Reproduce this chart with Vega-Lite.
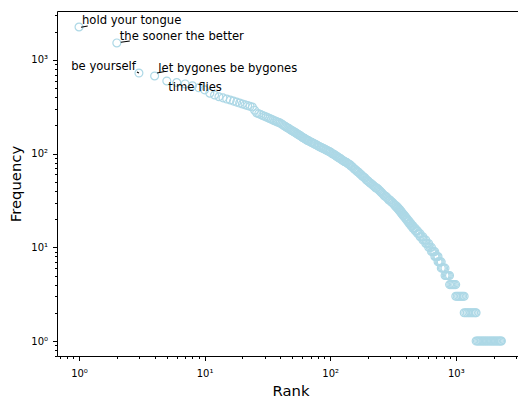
{
  "$schema": "https://vega.github.io/schema/vega-lite/v6.json",
  "width": 461,
  "height": 345,
  "autosize": {"type": "none"},
  "padding": {"left": 57, "top": 11, "right": 0, "bottom": 42},
  "config": {
    "view": {"stroke": null},
    "font": "DejaVu Sans",
    "axis": {
      "grid": false,
      "domainColor": "#000000",
      "domainWidth": 1,
      "tickColor": "#000000",
      "tickWidth": 1,
      "labelColor": "#000000",
      "labelFont": "DejaVu Sans",
      "labelFontSize": 10,
      "labelOverlap": false,
      "labelFlush": false,
      "labelBound": false,
      "titleFont": "DejaVu Sans",
      "titleFontSize": 14.8,
      "titleFontWeight": "normal",
      "titleColor": "#000000"
    }
  },
  "datasets": {
    "words": [
      {"rank": 1, "freq": 2250, "phrase": "hold your tongue"},
      {"rank": 2, "freq": 1520, "phrase": "the sooner the better"},
      {"rank": 3, "freq": 726, "phrase": "be yourself"},
      {"rank": 4, "freq": 675, "phrase": "let bygones be bygones"},
      {"rank": 5, "freq": 597, "phrase": "time flies"},
      {"rank": 6, "freq": 575}, {"rank": 7, "freq": 555}, {"rank": 8, "freq": 530}, {"rank": 9, "freq": 505}, {"rank": 10, "freq": 480},
      {"rank": 11, "freq": 442}, {"rank": 12, "freq": 423}, {"rank": 13, "freq": 405}, {"rank": 14, "freq": 394}, {"rank": 15, "freq": 383},
      {"rank": 16, "freq": 374}, {"rank": 17, "freq": 364}, {"rank": 18, "freq": 355}, {"rank": 19, "freq": 347}, {"rank": 20, "freq": 339},
      {"rank": 21, "freq": 332}, {"rank": 22, "freq": 326}, {"rank": 23, "freq": 320}, {"rank": 24, "freq": 315}, {"rank": 25, "freq": 291},
      {"rank": 26, "freq": 272}, {"rank": 27, "freq": 267}, {"rank": 28, "freq": 261}, {"rank": 29, "freq": 256}, {"rank": 30, "freq": 251},
      {"rank": 31, "freq": 246}, {"rank": 32, "freq": 241}, {"rank": 33, "freq": 237}, {"rank": 34, "freq": 233}, {"rank": 35, "freq": 229},
      {"rank": 36, "freq": 225}, {"rank": 37, "freq": 222}, {"rank": 38, "freq": 218}, {"rank": 39, "freq": 215}, {"rank": 40, "freq": 212},
      {"rank": 41, "freq": 207}, {"rank": 42, "freq": 203}, {"rank": 43, "freq": 199}, {"rank": 44, "freq": 195}, {"rank": 45, "freq": 191},
      {"rank": 46, "freq": 188}, {"rank": 47, "freq": 185}, {"rank": 48, "freq": 181}, {"rank": 49, "freq": 178}, {"rank": 50, "freq": 175},
      {"rank": 51, "freq": 172}, {"rank": 52, "freq": 170}, {"rank": 53, "freq": 167}, {"rank": 54, "freq": 164}, {"rank": 55, "freq": 162},
      {"rank": 56, "freq": 159}, {"rank": 57, "freq": 157}, {"rank": 58, "freq": 155}, {"rank": 59, "freq": 152}, {"rank": 60, "freq": 150},
      {"rank": 61, "freq": 148}, {"rank": 62, "freq": 146}, {"rank": 63, "freq": 144}, {"rank": 64, "freq": 142}, {"rank": 65, "freq": 140},
      {"rank": 66, "freq": 139}, {"rank": 67, "freq": 137}, {"rank": 68, "freq": 136}, {"rank": 70, "freq": 133}, {"rank": 71, "freq": 132},
      {"rank": 72, "freq": 131}, {"rank": 74, "freq": 128}, {"rank": 75, "freq": 127}, {"rank": 76, "freq": 126}, {"rank": 78, "freq": 124},
      {"rank": 79, "freq": 122}, {"rank": 81, "freq": 120}, {"rank": 82, "freq": 119}, {"rank": 84, "freq": 117}, {"rank": 85, "freq": 116},
      {"rank": 87, "freq": 114}, {"rank": 88, "freq": 114}, {"rank": 90, "freq": 112}, {"rank": 92, "freq": 110}, {"rank": 93, "freq": 109},
      {"rank": 95, "freq": 108}, {"rank": 97, "freq": 106}, {"rank": 99, "freq": 105}, {"rank": 100, "freq": 104}, {"rank": 102, "freq": 102},
      {"rank": 104, "freq": 100}, {"rank": 106, "freq": 99}, {"rank": 108, "freq": 97}, {"rank": 110, "freq": 96}, {"rank": 112, "freq": 94},
      {"rank": 114, "freq": 93}, {"rank": 116, "freq": 91}, {"rank": 118, "freq": 90}, {"rank": 120, "freq": 89}, {"rank": 122, "freq": 87},
      {"rank": 124, "freq": 86}, {"rank": 127, "freq": 84}, {"rank": 129, "freq": 83}, {"rank": 131, "freq": 82}, {"rank": 134, "freq": 81},
      {"rank": 136, "freq": 80}, {"rank": 139, "freq": 78}, {"rank": 141, "freq": 77}, {"rank": 144, "freq": 76}, {"rank": 146, "freq": 74},
      {"rank": 149, "freq": 73}, {"rank": 152, "freq": 71}, {"rank": 155, "freq": 69}, {"rank": 157, "freq": 68}, {"rank": 160, "freq": 67},
      {"rank": 163, "freq": 65}, {"rank": 166, "freq": 64}, {"rank": 169, "freq": 63}, {"rank": 172, "freq": 61}, {"rank": 176, "freq": 60},
      {"rank": 179, "freq": 58}, {"rank": 182, "freq": 57}, {"rank": 186, "freq": 56}, {"rank": 189, "freq": 55}, {"rank": 193, "freq": 53},
      {"rank": 196, "freq": 52}, {"rank": 200, "freq": 51}, {"rank": 203, "freq": 50}, {"rank": 207, "freq": 49}, {"rank": 211, "freq": 48},
      {"rank": 215, "freq": 47}, {"rank": 219, "freq": 46}, {"rank": 223, "freq": 45}, {"rank": 227, "freq": 44}, {"rank": 231, "freq": 43},
      {"rank": 235, "freq": 43}, {"rank": 240, "freq": 42}, {"rank": 244, "freq": 41}, {"rank": 249, "freq": 40}, {"rank": 253, "freq": 39},
      {"rank": 258, "freq": 38}, {"rank": 263, "freq": 37}, {"rank": 268, "freq": 36}, {"rank": 273, "freq": 35}, {"rank": 278, "freq": 35},
      {"rank": 283, "freq": 34}, {"rank": 288, "freq": 33}, {"rank": 293, "freq": 32}, {"rank": 299, "freq": 32}, {"rank": 304, "freq": 31},
      {"rank": 310, "freq": 30}, {"rank": 315, "freq": 30}, {"rank": 321, "freq": 29}, {"rank": 327, "freq": 28}, {"rank": 333, "freq": 28},
      {"rank": 335, "freq": 27}, {"rank": 343, "freq": 27},
      {"rank": 344, "freq": 26}, {"rank": 351, "freq": 26},
      {"rank": 352, "freq": 25}, {"rank": 356, "freq": 25}, {"rank": 360, "freq": 25},
      {"rank": 361, "freq": 24}, {"rank": 365, "freq": 24}, {"rank": 369, "freq": 24},
      {"rank": 370, "freq": 23}, {"rank": 374, "freq": 23}, {"rank": 378, "freq": 23},
      {"rank": 379, "freq": 22}, {"rank": 384, "freq": 22}, {"rank": 389, "freq": 22},
      {"rank": 390, "freq": 21}, {"rank": 395, "freq": 21}, {"rank": 400, "freq": 21},
      {"rank": 401, "freq": 20}, {"rank": 406, "freq": 20}, {"rank": 412, "freq": 20},
      {"rank": 413, "freq": 19}, {"rank": 419, "freq": 19}, {"rank": 425, "freq": 19},
      {"rank": 426, "freq": 18}, {"rank": 432, "freq": 18}, {"rank": 439, "freq": 18},
      {"rank": 440, "freq": 17}, {"rank": 447, "freq": 17}, {"rank": 455, "freq": 17},
      {"rank": 456, "freq": 16}, {"rank": 465, "freq": 16}, {"rank": 474, "freq": 16},
      {"rank": 475, "freq": 15}, {"rank": 485, "freq": 15}, {"rank": 496, "freq": 15},
      {"rank": 497, "freq": 14}, {"rank": 508, "freq": 14}, {"rank": 519, "freq": 14},
      {"rank": 520, "freq": 13}, {"rank": 533, "freq": 13}, {"rank": 546, "freq": 13},
      {"rank": 547, "freq": 12}, {"rank": 561, "freq": 12}, {"rank": 576, "freq": 12},
      {"rank": 577, "freq": 11}, {"rank": 592, "freq": 11}, {"rank": 607, "freq": 11},
      {"rank": 608, "freq": 10}, {"rank": 624, "freq": 10}, {"rank": 640, "freq": 10},
      {"rank": 641, "freq": 9}, {"rank": 654, "freq": 9}, {"rank": 667, "freq": 9}, {"rank": 680, "freq": 9},
      {"rank": 681, "freq": 8}, {"rank": 694, "freq": 8}, {"rank": 708, "freq": 8}, {"rank": 721, "freq": 8},
      {"rank": 722, "freq": 7}, {"rank": 736, "freq": 7}, {"rank": 750, "freq": 7}, {"rank": 765, "freq": 7},
      {"rank": 766, "freq": 6}, {"rank": 783, "freq": 6}, {"rank": 801, "freq": 6}, {"rank": 820, "freq": 6},
      {"rank": 821, "freq": 5}, {"rank": 838, "freq": 5}, {"rank": 855, "freq": 5}, {"rank": 873, "freq": 5}, {"rank": 891, "freq": 5},
      {"rank": 892, "freq": 4}, {"rank": 912, "freq": 4}, {"rank": 932, "freq": 4}, {"rank": 953, "freq": 4}, {"rank": 975, "freq": 4}, {"rank": 998, "freq": 4},
      {"rank": 999, "freq": 3}, {"rank": 1025, "freq": 3}, {"rank": 1052, "freq": 3}, {"rank": 1080, "freq": 3}, {"rank": 1108, "freq": 3}, {"rank": 1136, "freq": 3}, {"rank": 1165, "freq": 3},
      {"rank": 1166, "freq": 2}, {"rank": 1200, "freq": 2}, {"rank": 1235, "freq": 2}, {"rank": 1271, "freq": 2}, {"rank": 1308, "freq": 2}, {"rank": 1346, "freq": 2}, {"rank": 1385, "freq": 2}, {"rank": 1425, "freq": 2}, {"rank": 1450, "freq": 2},
      {"rank": 1451, "freq": 1}, {"rank": 1486, "freq": 1}, {"rank": 1522, "freq": 1}, {"rank": 1558, "freq": 1}, {"rank": 1596, "freq": 1},
      {"rank": 1634, "freq": 1}, {"rank": 1673, "freq": 1}, {"rank": 1713, "freq": 1}, {"rank": 1754, "freq": 1}, {"rank": 1796, "freq": 1},
      {"rank": 1840, "freq": 1}, {"rank": 1884, "freq": 1}, {"rank": 1929, "freq": 1}, {"rank": 1975, "freq": 1}, {"rank": 2023, "freq": 1},
      {"rank": 2071, "freq": 1}, {"rank": 2121, "freq": 1}, {"rank": 2172, "freq": 1}, {"rank": 2224, "freq": 1}, {"rank": 2277, "freq": 1},
      {"rank": 2307, "freq": 1}
    ]
  },
  "data": {"name": "words"},
  "resolve": {"axis": {"x": "independent", "y": "independent"}},
  "layer": [
    {
      "mark": {"type": "point", "shape": "circle", "filled": false, "color": "#add8e6", "strokeWidth": 1.2, "size": 62, "opacity": 1},
      "encoding": {
        "x": {
          "field": "rank", "type": "quantitative",
          "scale": {"type": "log", "domain": [0.668, 3126], "nice": false},
          "axis": {
            "orient": "bottom",
            "values": [0.7, 0.8, 0.9, 1, 2, 3, 4, 5, 6, 7, 8, 9, 10, 20, 30, 40, 50, 60, 70, 80, 90, 100, 200, 300, 400, 500, 600, 700, 800, 900, 1000, 2000, 3000],
            "labelExpr": "datum.value == 1 ? '10⁰' : datum.value == 10 ? '10¹' : datum.value == 100 ? '10²' : datum.value == 1000 ? '10³' : ''",
            "tickSize": {"condition": {"test": "datum.value == 1 || datum.value == 10 || datum.value == 100 || datum.value == 1000", "value": 4.5}, "value": 2.5},
            "labelBaseline": "alphabetic",
            "labelPadding": 15.5,
            "title": "Rank",
            "titleX": 233.5,
            "titleY": 39,
            "titleBaseline": "alphabetic"
          }
        },
        "y": {
          "field": "freq", "type": "quantitative",
          "scale": {"type": "log", "domain": [0.692, 3334], "nice": false},
          "axis": {
            "orient": "left",
            "values": [0.7, 0.8, 0.9, 1, 2, 3, 4, 5, 6, 7, 8, 9, 10, 20, 30, 40, 50, 60, 70, 80, 90, 100, 200, 300, 400, 500, 600, 700, 800, 900, 1000, 2000, 3000],
            "labelExpr": "datum.value == 1 ? '10⁰' : datum.value == 10 ? '10¹' : datum.value == 100 ? '10²' : datum.value == 1000 ? '10³' : ''",
            "tickSize": {"condition": {"test": "datum.value == 1 || datum.value == 10 || datum.value == 100 || datum.value == 1000", "value": 4.5}, "value": 2.5},
            "labelPadding": 5,
            "title": "Frequency",
            "titleX": -37,
            "titleY": 172.5,
            "titleBaseline": "alphabetic"
          }
        }
      }
    },
    {
      "transform": [{"filter": "datum.rank == 1"}],
      "mark": {"type": "rule", "color": "#000000", "strokeWidth": 1.1, "xOffset": 2, "yOffset": 0.3, "x2Offset": 8.7, "y2Offset": -1},
      "encoding": {
        "x": {"field": "rank", "type": "quantitative", "scale": {"type": "log", "domain": [0.668, 3126], "nice": false},
              "axis": {"orient": "top", "ticks": false, "labels": false, "title": null, "domain": true}},
        "y": {"field": "freq", "type": "quantitative", "scale": {"type": "log", "domain": [0.692, 3334], "nice": false}, "axis": null},
        "x2": {"field": "rank"},
        "y2": {"field": "freq"}
      }
    },
    {
      "transform": [{"filter": "datum.rank == 2"}],
      "mark": {"type": "rule", "color": "#000000", "strokeWidth": 1.1, "xOffset": 4, "yOffset": -0.7, "x2Offset": 13, "y2Offset": -2},
      "encoding": {
        "x": {"field": "rank", "type": "quantitative", "scale": {"type": "log", "domain": [0.668, 3126], "nice": false}, "axis": null},
        "y": {"field": "freq", "type": "quantitative", "scale": {"type": "log", "domain": [0.692, 3334], "nice": false}, "axis": null},
        "x2": {"field": "rank"},
        "y2": {"field": "freq"}
      }
    },
    {
      "transform": [{"filter": "datum.rank == 3"}],
      "mark": {"type": "rule", "color": "#000000", "strokeWidth": 1.1, "xOffset": -2, "yOffset": -1, "x2Offset": 0, "y2Offset": 0},
      "encoding": {
        "x": {"field": "rank", "type": "quantitative", "scale": {"type": "log", "domain": [0.668, 3126], "nice": false}, "axis": null},
        "y": {"field": "freq", "type": "quantitative", "scale": {"type": "log", "domain": [0.692, 3334], "nice": false}, "axis": null},
        "x2": {"field": "rank"},
        "y2": {"field": "freq"}
      }
    },
    {
      "transform": [{"filter": "datum.rank == 4"}],
      "mark": {"type": "rule", "color": "#000000", "strokeWidth": 1.1, "xOffset": 2.5, "yOffset": -3, "x2Offset": 10, "y2Offset": -4.5},
      "encoding": {
        "x": {"field": "rank", "type": "quantitative", "scale": {"type": "log", "domain": [0.668, 3126], "nice": false}, "axis": null},
        "y": {"field": "freq", "type": "quantitative", "scale": {"type": "log", "domain": [0.692, 3334], "nice": false}, "axis": null},
        "x2": {"field": "rank"},
        "y2": {"field": "freq"}
      }
    },
    {
      "transform": [{"filter": "datum.rank == 1 || datum.rank == 2"}],
      "mark": {"type": "text", "align": "left", "baseline": "alphabetic", "dx": 3, "dy": -2.8, "font": "DejaVu Sans", "fontSize": 11.6, "color": "#000000"},
      "encoding": {
        "x": {"field": "rank", "type": "quantitative", "scale": {"type": "log", "domain": [0.668, 3126], "nice": false}, "axis": null},
        "y": {"field": "freq", "type": "quantitative", "scale": {"type": "log", "domain": [0.692, 3334], "nice": false}, "axis": null},
        "text": {"field": "phrase"}
      }
    },
    {
      "transform": [{"filter": "datum.rank == 3"}],
      "mark": {"type": "text", "align": "right", "baseline": "alphabetic", "dx": -3, "dy": -3, "font": "DejaVu Sans", "fontSize": 11.6, "color": "#000000"},
      "encoding": {
        "x": {"field": "rank", "type": "quantitative", "scale": {"type": "log", "domain": [0.668, 3126], "nice": false}, "axis": null},
        "y": {"field": "freq", "type": "quantitative", "scale": {"type": "log", "domain": [0.692, 3334], "nice": false}, "axis": null},
        "text": {"field": "phrase"}
      }
    },
    {
      "transform": [{"filter": "datum.rank == 4"}],
      "mark": {"type": "text", "align": "left", "baseline": "alphabetic", "dx": 3.7, "dy": -4.3, "font": "DejaVu Sans", "fontSize": 11.6, "color": "#000000"},
      "encoding": {
        "x": {"field": "rank", "type": "quantitative", "scale": {"type": "log", "domain": [0.668, 3126], "nice": false}, "axis": null},
        "y": {"field": "freq", "type": "quantitative", "scale": {"type": "log", "domain": [0.692, 3334], "nice": false}, "axis": null},
        "text": {"field": "phrase"}
      }
    },
    {
      "transform": [{"filter": "datum.rank == 5"}],
      "mark": {"type": "text", "align": "left", "baseline": "alphabetic", "dx": 1.5, "dy": 10, "font": "DejaVu Sans", "fontSize": 11.6, "color": "#000000"},
      "encoding": {
        "x": {"field": "rank", "type": "quantitative", "scale": {"type": "log", "domain": [0.668, 3126], "nice": false}, "axis": null},
        "y": {"field": "freq", "type": "quantitative", "scale": {"type": "log", "domain": [0.692, 3334], "nice": false}, "axis": null},
        "text": {"field": "phrase"}
      }
    }
  ]
}
